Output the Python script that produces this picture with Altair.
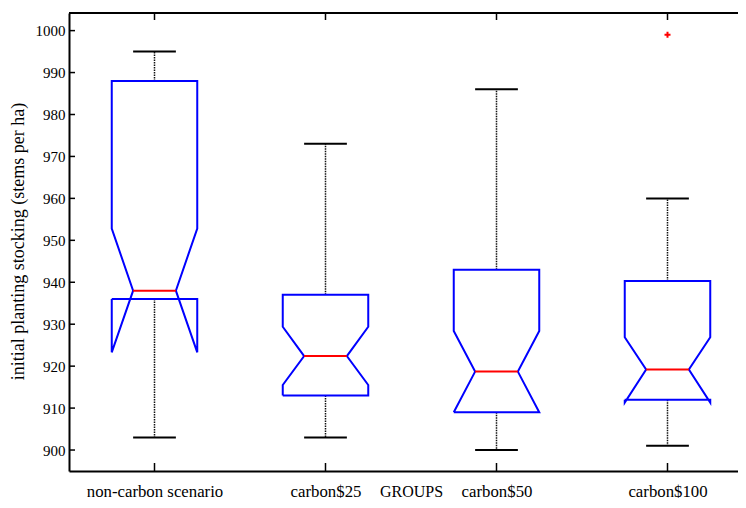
import altair as alt
import pandas as pd

# ---- data ----
groups = ["non-carbon scenario", "carbon$25", "carbon$50", "carbon$100"]
positions = [1, 2, 3, 4]
whisk_hi = [995, 973, 986, 960]
q3 = [988, 937, 943, 940.3]
notch_hi = [952.8, 929.4, 928.4, 926.9]
median = [938, 922.4, 918.7, 919.2]
q1 = [936, 913, 909, 912]
notch_lo = [923.3, 915.5, 909, 911.3]
whisk_lo = [903, 903, 900, 901]
outlier_pos = [4]
outlier_val = [999]
y_ticks = [900, 910, 920, 930, 940, 950, 960, 970, 980, 990, 1000]

# ---- style constants ----
BOX_HALF = 0.25
NOTCH_HALF = 0.125
CAP_HALF = 0.125
FULL_W = 684          # width the full 0.5..4.5 axis would take
W, H = 669, 458       # visible part of the plot (right side runs off the page)
FONT = "Liberation Serif"

# notched box outline (MATLAB drawing order)
rows = []
for i, p in enumerate(positions):
    pts = [(-BOX_HALF, q1[i]), (-BOX_HALF, notch_lo[i]), (-NOTCH_HALF, median[i]),
           (-BOX_HALF, notch_hi[i]), (-BOX_HALF, q3[i]), (BOX_HALF, q3[i]),
           (BOX_HALF, notch_hi[i]), (NOTCH_HALF, median[i]), (BOX_HALF, notch_lo[i]),
           (BOX_HALF, q1[i]), (-BOX_HALF, q1[i])]
    for k, (dx, v) in enumerate(pts):
        rows.append({"group": groups[i], "x": p + dx, "y": v, "ord": k})
box_df = pd.DataFrame(rows)

stats = pd.DataFrame({
    "group": groups, "pos": positions,
    "left": [p - NOTCH_HALF for p in positions],
    "right": [p + NOTCH_HALF for p in positions],
    "cleft": [p - CAP_HALF for p in positions],
    "cright": [p + CAP_HALF for p in positions],
    "median": median, "q1": q1, "q3": q3, "wlo": whisk_lo, "whi": whisk_hi,
})
out_df = pd.DataFrame({"pos": outlier_pos, "val": outlier_val})
ytick_df = pd.DataFrame({"t": y_ticks})

label_expr = "[" + ",".join("'" + g + "'" for g in groups) + "][datum.value - 1]"

x_max = 0.5 + 4.0 * W / FULL_W
xs = alt.Scale(domain=[0.5, x_max], nice=False, zero=False)
ys = alt.Scale(domain=[895, 1004.2], nice=False, zero=False)

ax_x = alt.Axis(values=positions, labelExpr=label_expr, ticks=False, tickSize=0,
                grid=False, domain=True, domainColor="black", domainWidth=2,
                labelFont=FONT, labelFontSize=16.8, labelColor="black",
                labelBaseline="alphabetic", labelPadding=25, labelOverlap=False,
                labelFlush=False,
                title="GROUPS", titleFont=FONT, titleFontSize=16, titleFontWeight="normal",
                titleColor="black", titleX=FULL_W / 2, titleY=25, titleBaseline="alphabetic",
                titleAlign="center")
ax_y = alt.Axis(values=y_ticks, ticks=False, tickSize=0, grid=False, domain=True,
                domainColor="black", domainWidth=2, format="d",
                labelFont=FONT, labelFontSize=15, labelColor="black", labelPadding=4,
                title="initial planting stocking (stems per ha)", titleFont=FONT,
                titleFontSize=18, titleFontWeight="normal", titleColor="black",
                titleAngle=270, titleX=-46, titleY=H / 2 - 1, titleAlign="center",
                titleBaseline="alphabetic")

base_stats = alt.Chart(stats)

boxes = alt.Chart(box_df).mark_line(color="#0000ff", strokeWidth=2).encode(
    x=alt.X("x:Q", scale=xs, axis=ax_x),
    y=alt.Y("y:Q", scale=ys, axis=ax_y),
    detail="group:N",
    order=alt.Order("ord:Q"),
)

whisk_up = base_stats.mark_rule(color="#111", strokeWidth=1.5, strokeDash=[1.5, 1]).encode(
    x=alt.X("pos:Q", scale=xs, axis=ax_x),
    y=alt.Y("q3:Q", scale=ys, axis=ax_y), y2="whi:Q")
whisk_dn = base_stats.mark_rule(color="#111", strokeWidth=1.5, strokeDash=[1.5, 1]).encode(
    x=alt.X("pos:Q", scale=xs, axis=ax_x),
    y=alt.Y("q1:Q", scale=ys, axis=ax_y), y2="wlo:Q")
cap_up = base_stats.mark_rule(color="black", strokeWidth=2).encode(
    x=alt.X("cleft:Q", scale=xs, axis=ax_x), x2="cright:Q",
    y=alt.Y("whi:Q", scale=ys, axis=ax_y))
cap_dn = base_stats.mark_rule(color="black", strokeWidth=2).encode(
    x=alt.X("cleft:Q", scale=xs, axis=ax_x), x2="cright:Q",
    y=alt.Y("wlo:Q", scale=ys, axis=ax_y))
med = base_stats.mark_rule(color="#ff0000", strokeWidth=2).encode(
    x=alt.X("left:Q", scale=xs, axis=ax_x), x2="right:Q",
    y=alt.Y("median:Q", scale=ys, axis=ax_y))
outl = alt.Chart(out_df).mark_point(shape="M-1,0L1,0M0,-1L0,1", size=36, color="#ff0000",
                                    strokeWidth=2, filled=False, opacity=1).encode(
    x=alt.X("pos:Q", scale=xs, axis=ax_x),
    y=alt.Y("val:Q", scale=ys, axis=ax_y))

# inward ticks (MATLAB style)
ytk = alt.Chart(ytick_df).mark_rule(color="black", strokeWidth=1.5).encode(
    y=alt.Y("t:Q", scale=ys, axis=ax_y), x=alt.value(0), x2=alt.value(6))
xtk_b = base_stats.mark_rule(color="black", strokeWidth=1.5).encode(
    x=alt.X("pos:Q", scale=xs, axis=ax_x), y=alt.value(H), y2=alt.value(H - 8))
xtk_t = base_stats.mark_rule(color="black", strokeWidth=1.5).encode(
    x=alt.X("pos:Q", scale=xs, axis=ax_x), y=alt.value(0), y2=alt.value(7))
top_border = alt.Chart(stats).mark_rule(color="black", strokeWidth=2).encode(
    x=alt.value(0), x2=alt.value(W), y=alt.value(0))

chart = alt.layer(
    whisk_up, whisk_dn, cap_up, cap_dn, boxes, med, outl, ytk, xtk_b, xtk_t, top_border
).properties(
    width=W, height=H,
    autosize=alt.AutoSizeParams(type="none"),
    padding={"left": 61, "top": 5, "right": 0, "bottom": 29},
    background="white",
).configure_view(stroke=None)

chart.save("out.html", embed_options={"renderer": "svg", "actions": False})
